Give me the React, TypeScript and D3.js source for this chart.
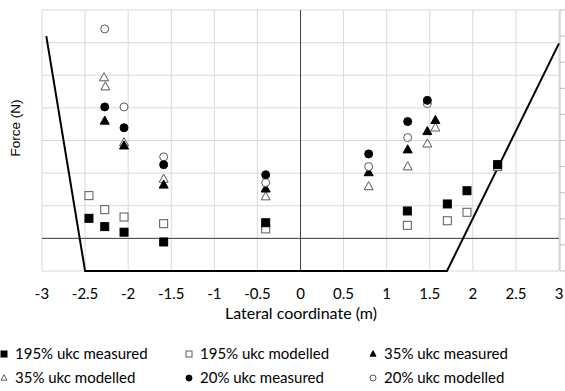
import React from "react";
import * as d3 from "d3";

const xTicks = [-3, -2.5, -2, -1.5, -1, -0.5, 0, 0.5, 1, 1.5, 2, 2.5, 3];
const yGrid = [-1, 0, 1, 2, 3, 4, 5, 6, 7];
const depthTicks = [0, 1, 2, 3, 4, 5, 6, 7, 8, 9, 10];

const sq195MeasX = [-2.455, -2.272, -2.048, -1.588, -0.404, 1.24, 1.704, 1.932, 2.288];
const sq195MeasY = [0.615, 0.36, 0.19, -0.11, 0.48, 0.84, 1.055, 1.46, 2.26];
const sq195ModX = [-2.455, -2.272, -2.048, -1.588, -0.404, 1.24, 1.704, 1.932, 2.288];
const sq195ModY = [1.31, 0.88, 0.655, 0.45, 0.29, 0.4, 0.54, 0.8, 2.2];
const tri35MeasX = [-2.272, -2.048, -1.588, -0.404, 0.791, 1.244, 1.472, 1.565];
const tri35MeasY = [3.6, 2.84, 1.64, 1.52, 2.02, 2.72, 3.28, 3.62];
const tri35ModX = [-2.28, -2.265, -2.048, -1.588, -0.404, 0.791, 1.244, 1.472, 1.565];
const tri35ModY = [4.93, 4.65, 2.94, 1.82, 1.28, 1.59, 2.2, 2.9, 3.39];
const c20MeasX = [-2.272, -2.048, -1.588, -0.404, 0.791, 1.244, 1.472];
const c20MeasY = [4.03, 3.39, 2.26, 1.95, 2.59, 3.58, 4.23];
const c20ModX = [-2.272, -2.048, -1.588, -0.404, 0.791, 1.244, 1.472];
const c20ModY = [6.42, 4.03, 2.5, 1.71, 2.2, 3.09, 4.13];

const profileX = [-2.95, -2.5, 1.7, 3];
const profileDepth = [9, 0, 0, 8.72];

const legendLabels = [
  "195% ukc measured",
  "195% ukc modelled",
  "35% ukc measured",
  "35% ukc modelled",
  "20% ukc measured",
  "20% ukc modelled",
];

const FONT = "Lato, 'Open Sans', sans-serif";
const OPEN = "#595959";

type Shape = "square" | "triangle" | "circle";

function Marker({ shape, filled, cx, cy, size }: { shape: Shape; filled: boolean; cx: number; cy: number; size: number }) {
  const fill = filled ? "#000" : "#fff";
  const stroke = filled ? "#000" : OPEN;
  if (shape === "square") {
    return <rect x={cx - size / 2} y={cy - size / 2} width={size} height={size} fill={fill} stroke={stroke} strokeWidth={1} />;
  }
  if (shape === "circle") {
    return <circle cx={cx} cy={cy} r={size / 2} fill={fill} stroke={stroke} strokeWidth={1} />;
  }
  const h = size * 0.9;
  const w = size;
  const pts = [
    [cx, cy - h * 0.6],
    [cx + w / 2, cy + h * 0.4],
    [cx - w / 2, cy + h * 0.4],
  ];
  return <polygon points={pts.map((p) => p.join(",")).join(" ")} fill={fill} stroke={stroke} strokeWidth={1} />;
}

export default function App() {
  const W = 565;
  const H = 391;
  const left = 42;
  const right = 559;
  const top = 10;
  const bottom = 271;

  const x = d3.scaleLinear().domain([-3, 3]).range([left, right]);
  const y = d3.scaleLinear().domain([-1, 7]).range([bottom, top]);
  const yd = d3.scaleLinear().domain([0, 10]).range([bottom, top]);

  const profile = d3
    .line<number>()
    .x((d, i) => x(profileX[i]))
    .y((d) => yd(d))(profileDepth);

  const series: { xs: number[]; ys: number[]; shape: Shape; filled: boolean; size: number }[] = [
    { xs: sq195ModX, ys: sq195ModY, shape: "square", filled: false, size: 8 },
    { xs: sq195MeasX, ys: sq195MeasY, shape: "square", filled: true, size: 8 },
    { xs: tri35ModX, ys: tri35ModY, shape: "triangle", filled: false, size: 9 },
    { xs: tri35MeasX, ys: tri35MeasY, shape: "triangle", filled: true, size: 9 },
    { xs: c20ModX, ys: c20ModY, shape: "circle", filled: false, size: 8 },
    { xs: c20MeasX, ys: c20MeasY, shape: "circle", filled: true, size: 8 },
  ];

  const legendItems: { shape: Shape; filled: boolean }[] = [
    { shape: "square", filled: true },
    { shape: "square", filled: false },
    { shape: "triangle", filled: true },
    { shape: "triangle", filled: false },
    { shape: "circle", filled: true },
    { shape: "circle", filled: false },
  ];
  const legCols = [4, 189, 373];
  const legRows = [354, 378];

  return (
    <svg width={W} height={H} style={{ position: "absolute", left: 0, top: 0 }}>
      <rect x={0} y={0} width={W} height={H} fill="#fff" />
      {xTicks.map((t) => (
        <line key={"gx" + t} x1={x(t)} x2={x(t)} y1={top} y2={bottom} stroke="#d9d9d9" strokeWidth={1} />
      ))}
      {yGrid.map((t) => (
        <line key={"gy" + t} x1={left} x2={right} y1={y(t)} y2={y(t)} stroke="#d9d9d9" strokeWidth={1} />
      ))}
      {/* secondary axis */}
      <line x1={right + 1} x2={right + 1} y1={top} y2={bottom} stroke="#bfbfbf" strokeWidth={1} />
      {depthTicks.map((t) => (
        <line key={"dt" + t} x1={right + 1} x2={right + 6} y1={yd(t)} y2={yd(t)} stroke="#bfbfbf" strokeWidth={1} />
      ))}
      {/* zero lines */}
      <line x1={left} x2={right} y1={y(0)} y2={y(0)} stroke="#404040" strokeWidth={1} />
      <line x1={x(0)} x2={x(0)} y1={top} y2={bottom} stroke="#404040" strokeWidth={1} />
      {/* profile */}
      <path d={profile || ""} fill="none" stroke="#000" strokeWidth={2} />
      {/* markers */}
      {series.map((s, si) =>
        s.xs.map((xv, i) => (
          <Marker key={si + "-" + i} shape={s.shape} filled={s.filled} cx={x(xv)} cy={y(s.ys[i])} size={s.size} />
        ))
      )}
      {/* tick labels */}
      {xTicks.map((t) => (
        <text key={"xl" + t} x={x(t)} y={299} textAnchor="middle" fontFamily={FONT} fontSize={15} fill="#000">
          {String(t)}
        </text>
      ))}
      <text x={301} y={319} textAnchor="middle" fontFamily={FONT} fontSize={16} fill="#000">
        Lateral coordinate (m)
      </text>
      <text
        transform={`translate(20, 128) rotate(-90)`}
        textAnchor="middle"
        fontFamily="'Liberation Sans', Arial, sans-serif"
        fontSize={13.5}
        fill="#000"
      >
        Force (N)
      </text>
      {/* legend */}
      {legendLabels.map((lab, i) => {
        const cx = legCols[i % 3];
        const cy = legRows[Math.floor(i / 3)];
        return (
          <g key={"lg" + i}>
            <Marker shape={legendItems[i].shape} filled={legendItems[i].filled} cx={cx} cy={cy} size={6} />
            <text x={cx + 11} y={cy + 5} fontFamily={FONT} fontSize={15} fill="#000">
              {lab}
            </text>
          </g>
        );
      })}
    </svg>
  );
}
